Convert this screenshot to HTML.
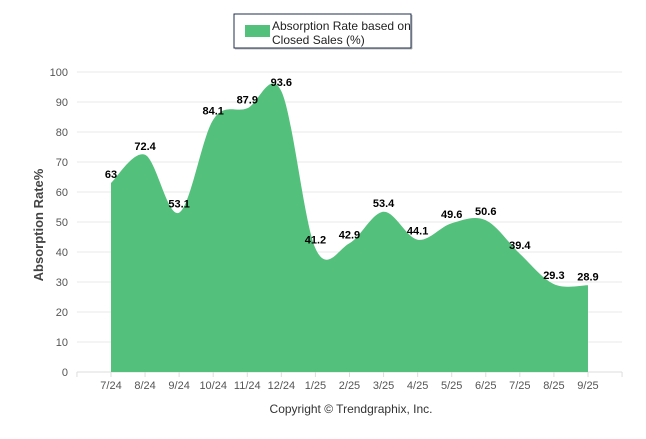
<!DOCTYPE html>
<html><head><meta charset="utf-8"><style>
body{margin:0;background:#fff;font-family:"Liberation Sans",Arial,sans-serif}
</style></head><body>
<svg id="c" width="646" height="434" xmlns="http://www.w3.org/2000/svg">
<g>
<rect x="234" y="14" width="177" height="34" fill="#fff" stroke="#1f2f4f" stroke-width="1"/>
<line x1="412" y1="15" x2="412" y2="49" stroke="#bbb"/><line x1="235" y1="49" x2="412" y2="49" stroke="#bbb"/>
<rect x="245" y="25" width="25" height="12" fill="#53c07c"/>
<text x="272" y="30" font-size="12" fill="#222">Absorption Rate based on</text>
<text x="272" y="44" font-size="12" fill="#222">Closed Sales (%)</text>
</g>
<g id="grid"></g>
<g id="area"></g>
<g id="labels"></g>
<text transform="translate(43,225) rotate(-90)" text-anchor="middle" font-size="13" font-weight="bold" fill="#444">Absorption Rate%</text>
<text x="351" y="413" text-anchor="middle" font-size="12" fill="#333">Copyright © Trendgraphix, Inc.</text>
</svg>
<script>
const categories=["7/24","8/24","9/24","10/24","11/24","12/24","1/25","2/25","3/25","4/25","5/25","6/25","7/25","8/25","9/25"];
const values=[63,72.4,53.1,84.1,87.9,93.6,41.2,42.9,53.4,44.1,49.6,50.6,39.4,29.3,28.9];
const yTicks=[0,10,20,30,40,50,60,70,80,90,100];
const NS="http://www.w3.org/2000/svg";
const step=34.07,x0=111-step,x1=x0+16*step,y0=372,y100=72;
const X=i=>x0+step*(i+1);
const Y=v=>y0+(y100-y0)*v/100;
function mk(t,a,p){const e=document.createElementNS(NS,t);for(const k in a)e.setAttribute(k,a[k]);p.appendChild(e);return e;}
const g=document.getElementById('grid');
yTicks.forEach(t=>{
 const l=mk('line',{x1:x0,x2:x1,y1:Y(t),y2:Y(t),stroke:t===0?'#ddd':'#e8e8e8'},g);
 
 
 const tx=mk('text',{x:68,y:Y(t)+4,'text-anchor':'end','font-size':'11',fill:'#555'},g);tx.textContent=t;
 
 
});
for(let i=0;i<=16;i++){const l=mk('line',{x1:x0+step*i,x2:x0+step*i,y1:y0,y2:y0+5,stroke:'#ddd'},g);
 
 }
categories.forEach((c,i)=>{const t=mk('text',{x:X(i),y:y0+17,'text-anchor':'middle','font-size':'11',fill:'#555'},g);t.textContent=c;
 
 });
const pts=values.map((v,i)=>[X(i),Y(v)]);
function ctrl(i){
 const p=pts[i],a=pts[i-1]||p,b=pts[i+1]||p;
 const dx=(b[0]-a[0])/6,dy=(b[1]-a[1])/6;
 return [[p[0]-dx,p[1]-dy],[p[0]+dx,p[1]+dy]];
}
let d='M'+pts[0][0]+','+y0+' L'+pts[0][0]+','+pts[0][1];
for(let i=1;i<pts.length;i++){const c1=ctrl(i-1)[1],c2=ctrl(i)[0];d+=` C${c1[0]},${c1[1]} ${c2[0]},${c2[1]} ${pts[i][0]},${pts[i][1]}`;}
d+=` L${pts[pts.length-1][0]},${y0} Z`;
const ar=mk('path',{d:d,fill:'#53c07c'},document.getElementById('area'));


const lg=document.getElementById('labels');
values.forEach((v,i)=>{const t=mk('text',{x:X(i),y:Y(v)-5,'text-anchor':'middle','font-size':'11','font-weight':'bold',fill:'#000'},lg);t.textContent=v;
 
 });
</script>
</body></html>
